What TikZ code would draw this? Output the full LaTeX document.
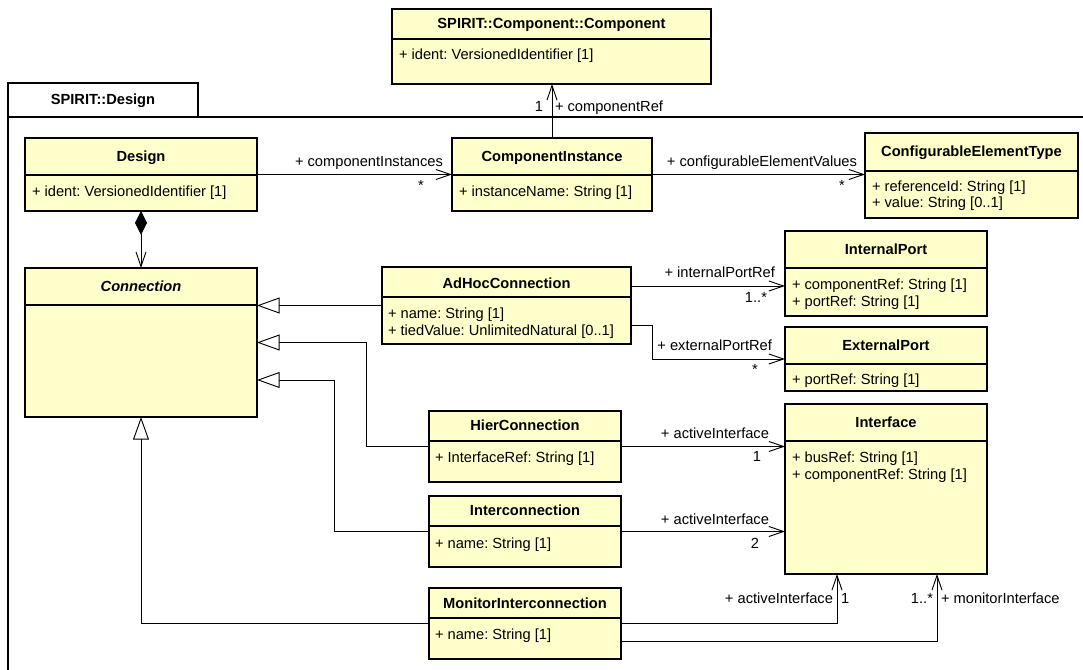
\documentclass[tikz,border=0pt]{standalone}
\usepackage{fontspec}
\setmainfont{Liberation Sans}
\frenchspacing
\usetikzlibrary{arrows.meta,calc,fit}
\definecolor{classfill}{RGB}{255,255,204}
\newcommand\umlbox[6]{%
  \coordinate (#1-nw) at (#2,#3);
  \coordinate (#1-se) at (#4,#5);
  \node[classbox, fit=(#1-nw)(#1-se)] (#1) {};
  \draw[boxline] (#2,#6) -- (#4,#6);}
\begin{document}
\begin{tikzpicture}[x=0.75pt,y=-0.75pt,
  every node/.style={font=\fontsize{11pt}{13pt}\selectfont, inner sep=0pt, outer sep=0pt},
  classbox/.style={draw=black, fill=classfill, line width=1pt, inner sep=0pt, outer sep=0pt},
  boxline/.style={line width=1pt},
  title/.style={anchor=base, font=\fontsize{11pt}{13pt}\selectfont\bfseries},
  attr/.style={anchor=base west},
  assoc/.style={line width=0.7pt, -{Straight Barb[length=11pt,width=7.5pt]}},
  gen/.style={line width=0.7pt, -{Triangle[open,length=17pt,width=12pt]}},
  compo/.style={line width=0.7pt, {Diamond[length=18pt,width=9pt]}-{Straight Barb[length=11pt,width=7.5pt]}},
  frame/.style={line width=1pt}]
\useasboundingbox (0,0) rectangle (1083,670);
% package frame
\begin{scope}
  \clip (0,0) rectangle (1083,670);
  \draw[frame] (8,117) -- (8,690);
  \draw[frame] (8,117) -- (1100,117);
\end{scope}
\draw[frame, fill=white] (8,83) rectangle (198,117);
\node[title] (pkg) at (103,105) {SPIRIT::Design};

% classes
\umlbox{comp}{392}{9}{711}{84}{39}
\node[title] (comp-t) at (551.5,29) {SPIRIT::Component::Component};
\node[attr] (comp-a1) at (399,60) {+ ident: VersionedIdentifier [1]};

\umlbox{design}{25}{138}{257}{211}{175}
\node[title] (design-t) at (141,161.5) {Design};
\node[attr] (design-a1) at (32,197) {+ ident: VersionedIdentifier [1]};

\umlbox{ci}{452}{138}{652}{211}{175}
\node[title] (ci-t) at (552,161.5) {ComponentInstance};
\node[attr] (ci-a1) at (459,197) {+ instanceName: String [1]};

\umlbox{cet}{865}{133}{1078}{218}{171}
\node[title] (cet-t) at (971.5,157) {ConfigurableElementType};
\node[attr] (cet-a1) at (872,192) {+ referenceId: String [1]};
\node[attr] (cet-a2) at (872,208) {+ value: String [0..1]};

\umlbox{conn}{25}{268}{257}{417}{305}
\node[title, font=\fontsize{11pt}{13pt}\selectfont\bfseries\itshape] (conn-t) at (141,291.5) {Connection};

\umlbox{adhoc}{382}{267}{631}{344}{297}
\node[title] (adhoc-t) at (506.5,289) {AdHocConnection};
\node[attr] (adhoc-a1) at (388,319) {+ name: String [1]};
\node[attr] (adhoc-a2) at (388,335.5) {+ tiedValue: UnlimitedNatural [0..1]};

\umlbox{ip}{785}{231}{987}{316}{268}
\node[title] (ip-t) at (886,254.5) {InternalPort};
\node[attr] (ip-a1) at (792,290) {+ componentRef: String [1]};
\node[attr] (ip-a2) at (792,306.5) {+ portRef: String [1]};

\umlbox{ep}{785}{327}{987}{391}{364}
\node[title] (ep-t) at (886,350.5) {ExternalPort};
\node[attr] (ep-a1) at (792,385) {+ portRef: String [1]};

\umlbox{iface}{785}{404}{987}{574}{441}
\node[title] (iface-t) at (886,427.5) {Interface};
\node[attr] (iface-a1) at (792,463) {+ busRef: String [1]};
\node[attr] (iface-a2) at (792,479.5) {+ componentRef: String [1]};

\umlbox{hier}{429}{411}{621}{482}{441}
\node[title] (hier-t) at (525,431) {HierConnection};
\node[attr] (hier-a1) at (435,463) {+ InterfaceRef: String [1]};

\umlbox{inter}{429}{496}{621}{567}{526}
\node[title] (inter-t) at (525,516) {Interconnection};
\node[attr] (inter-a1) at (435,548) {+ name: String [1]};

\umlbox{mon}{429}{588}{621}{659}{618}
\node[title] (mon-t) at (525,608) {MonitorInterconnection};
\node[attr] (mon-a1) at (435,639) {+ name: String [1]};

% associations
\draw[assoc] (design.east) -- (design.east -| ci.west);
\node[anchor=base east] (l-ci) at (443,167) {+ componentInstances};
\node[anchor=base] (m-ci) at (421,191) {*};

\draw[assoc] (ci.east) -- (ci.east -| cet.west);
\node[anchor=base east] (l-cet) at (857,167) {+ configurableElementValues};
\node[anchor=base] (m-cet) at (842,191) {*};

\draw[assoc] (ci.north) -- (ci.north |- comp.south);
\node[anchor=base] (m-comp) at (539,112) {1};
\node[anchor=base west] (l-comp) at (555,112) {+ componentRef};

\draw[compo] (design.south) -- (conn.north);

% generalizations
\draw[gen] (adhoc.west) -- (adhoc.west -| conn.east);
\draw[gen] (hier.west) -- ++(-63,0) |- (conn.east);
\coordinate (cg3) at ($(conn.east)+(0,37.5)$);
\draw[gen] (inter.west) -- ++(-95,0) |- (cg3);
\draw[gen] (mon.west) -| (conn.south);

% adhoc ports
\coordinate (ah1) at ($(adhoc.north east)+(0,19)$);
\draw[assoc] (ah1) -- (ah1 -| ip.west);
\node[anchor=base east] (l-ip) at (775,278) {+ internalPortRef};
\node[anchor=base east] (m-ip) at (767,303) {1..*};

\coordinate (ah2) at ($(adhoc.north east)+(0,58)$);
\draw[assoc] (ah2) -- ++(21,0) |- (ep.west);
\node[anchor=base east] (l-ep) at (772,351) {+ externalPortRef};
\node[anchor=base] (m-ep) at (755,375) {*};

% interfaces
\draw[assoc] (hier.east) -- (hier.east -| iface.west);
\node[anchor=base east] (l-h) at (769,439) {+ activeInterface};
\node[anchor=base] (m-h) at (757,462) {1};

\draw[assoc] (inter.east) -- (inter.east -| iface.west);
\node[anchor=base east] (l-i) at (769,525) {+ activeInterface};
\node[anchor=base] (m-i) at (755,549) {2};

\coordinate (ifa) at ($(iface.south)+(-49,0)$);
\draw[assoc] (mon.east) -| (ifa);
\node[anchor=base east] (l-ma) at (833,603) {+ activeInterface};
\node[anchor=base west] (m-ma) at (841,603) {1};

\coordinate (mon2) at ($(mon.east)+(0,17.5)$);
\coordinate (ifb) at ($(iface.south)+(51,0)$);
\draw[assoc] (mon2) -| (ifb);
\node[anchor=base east] (m-mm) at (933,603) {1..*};
\node[anchor=base west] (l-mm) at (941,603) {+ monitorInterface};
\end{tikzpicture}
\end{document}
